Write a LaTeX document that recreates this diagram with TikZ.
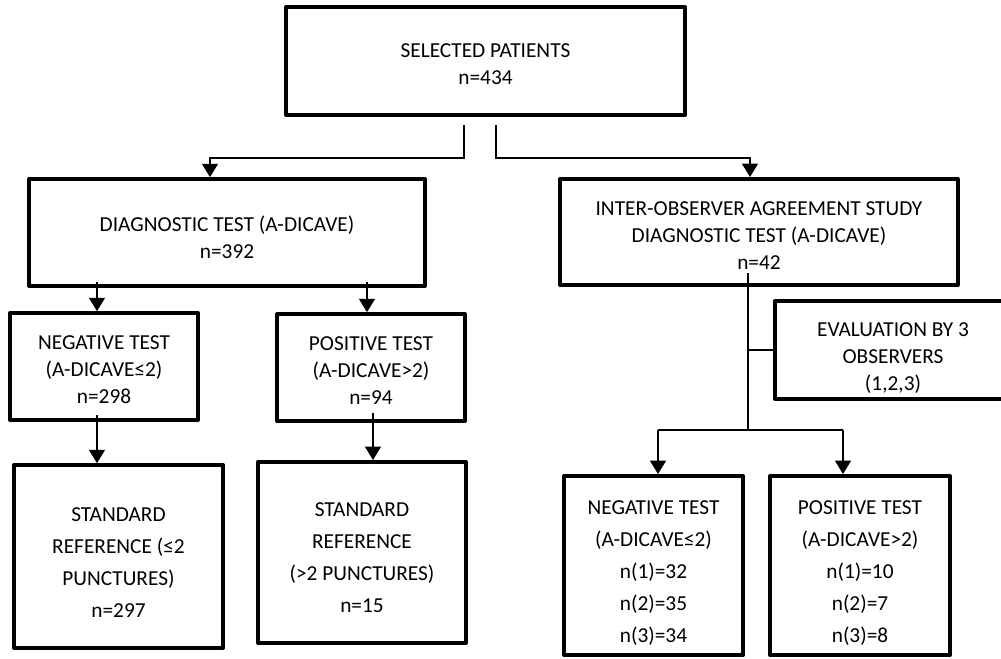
\documentclass[tikz,border=0pt]{standalone}
\usepackage{fontspec}
\setmainfont{Carlito}
\usetikzlibrary{arrows.meta}

\tikzset{
  box/.style={draw, line width=3pt, line join=round, inner sep=0pt},
  txt/.style={align=center, inner sep=0pt, font=\fontsize{16}{20}\selectfont},
  talltxt/.style={txt, font=\fontsize{16}{24}\selectfont},
  link/.style={line width=0.9pt},
  arr/.style={link, -{Triangle[width=12pt,length=10pt]}}
}

\begin{document}
\begin{tikzpicture}[x=0.75pt,y=-0.75pt]
        \useasboundingbox (0,0) rectangle (1001,659);
        \clip (0,0) rectangle (1001,659);

        \node[box, minimum width=299pt, minimum height=81pt] (sel) at (485.5,61) {};
        \node[box, minimum width=297pt, minimum height=80pt] (diag) at (227,232.5) {};
        \node[box, minimum width=298pt, minimum height=79.5pt] (inter) at (759,232) {};
        \node[box, minimum width=141pt, minimum height=80pt] (neg) at (104,366.5) {};
        \node[box, minimum width=141pt, minimum height=80pt] (pos) at (371,367.5) {};
        \node[box, minimum width=156.75pt, minimum height=137pt] (stdneg) at (118.5,556.5) {};
        \node[box, minimum width=156pt, minimum height=135.75pt] (stdpos) at (362,552.5) {};
        \node[box, minimum width=178.5pt, minimum height=73.5pt] (eval) at (894,350) {};
        \node[box, minimum width=134.25pt, minimum height=134.25pt] (obsneg) at (653.5,565.5) {};
        \node[box, minimum width=135pt, minimum height=134.25pt] (obspos) at (860,565.5) {};

        \node[txt] (sel-t) at (485.5,64) {SELECTED PATIENTS\\n=434};
        \node[txt] (diag-t) at (227,237) {DIAGNOSTIC TEST (A-DICAVE)\\n=392};
        \node[txt] (inter-t) at (759,235.5) {INTER-OBSERVER AGREEMENT STUDY\\DIAGNOSTIC TEST (A-DICAVE)\\n=42};
        \node[txt] (neg-t) at (104,369.5) {NEGATIVE TEST\\(A-DICAVE≤2)\\n=298};
        \node[txt] (pos-t) at (371,370.5) {POSITIVE TEST\\(A-DICAVE>2)\\n=94};
        \node[talltxt] (stdneg-t) at (118.5,563) {STANDARD\\REFERENCE (≤2\\PUNCTURES)\\n=297};
        \node[talltxt] (stdpos-t) at (362,558) {STANDARD\\REFERENCE\\(>2 PUNCTURES)\\n=15};
        \node[txt] (eval-t) at (893,358) {EVALUATION BY 3\\OBSERVERS\\(1,2,3)};
        \node[talltxt] (obsneg-t) at (653.5,573) {NEGATIVE TEST\\(A-DICAVE≤2)\\n(1)=32\\n(2)=35\\n(3)=34};
        \node[talltxt] (obspos-t) at (860,573) {POSITIVE TEST\\(A-DICAVE>2)\\n(1)=10\\n(2)=7\\n(3)=8};

        \coordinate (sl) at (464,125);
        \coordinate (sr) at (496,125);
        \coordinate (bl) at (210,158);
        \coordinate (br) at (750,158);
        \draw[arr] (sl) |- (bl) -- (bl |- diag.north);
        \draw[arr] (sr) |- (br) -- (br |- inter.north);

        \coordinate (a1) at (97,282);
        \coordinate (a2) at (367,282);
        \coordinate (a3) at (97,415);
        \coordinate (a4) at (373,413);
        \draw[arr] (a1) -- (a1 |- neg.north);
        \draw[arr] (a2) -- (a2 |- pos.north);
        \draw[arr] (a3) -- (a3 |- stdneg.north);
        \draw[arr] (a4) -- (a4 |- stdpos.north);

        \coordinate (v0) at (748,273);
        \coordinate (v1) at (748,430);
        \coordinate (cl) at (658,430);
        \coordinate (cr) at (843,430);
        \draw[link] (v0) -- (v1);
        \draw[link] (v0 |- eval.west) -- (eval.west);
        \draw[link] (cl) -- (cr);
        \draw[arr] (cl) -- (cl |- obsneg.north);
        \draw[arr] (cr) -- (cr |- obspos.north);
      \end{tikzpicture}
\end{document}
